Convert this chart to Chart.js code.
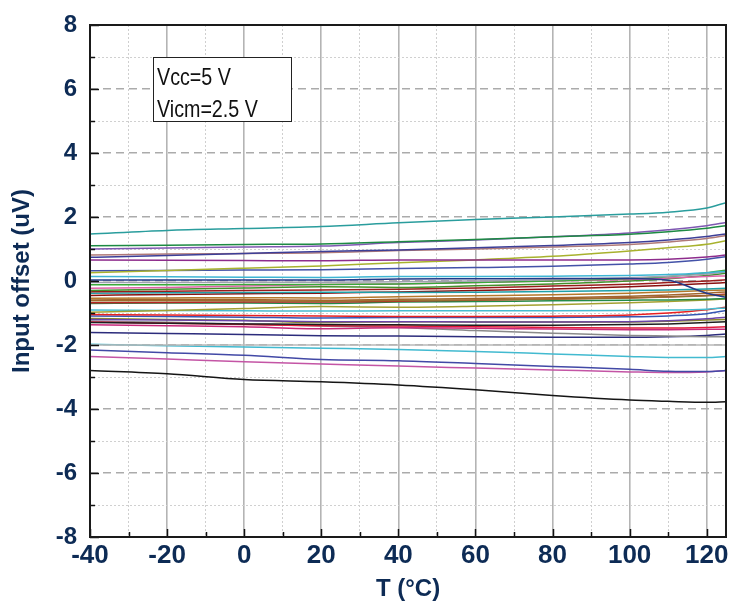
<!DOCTYPE html>
<html>
<head>
<meta charset="utf-8">
<script src="https://cdn.jsdelivr.net/npm/chart.js@4.4.1/dist/chart.umd.min.js"></script>
<style>
  html, body { margin: 0; padding: 0; background: #fff; }
  #wrap { width: 729px; height: 608px; position: relative; }
</style>
</head>
<body>
<div id="wrap"><canvas id="offsetChart" width="729" height="608"></canvas></div>
<script>
const temps = [-40, -20, 0, 20, 40, 60, 80, 100, 110, 120, 125];

// tick positions
const xTicks = [-40, -30, -20, -10, 0, 10, 20, 30, 40, 50, 60, 70, 80, 90, 100, 110, 120];
const yTicks = [-8, -7, -6, -5, -4, -3, -2, -1, 0, 1, 2, 3, 4, 5, 6, 7, 8];

// one curve per part (input offset, uV)
const s01 = [1.47, 1.58, 1.64, 1.70, 1.82, 1.92, 2.00, 2.09, 2.15, 2.28, 2.45];
const s02 = [1.10, 1.12, 1.14, 1.16, 1.23, 1.30, 1.38, 1.46, 1.54, 1.65, 1.73];
const s03 = [1.00, 1.03, 1.06, 1.09, 1.20, 1.28, 1.38, 1.50, 1.60, 1.73, 1.83];
const s04 = [0.74, 0.80, 0.86, 0.92, 0.97, 1.04, 1.11, 1.20, 1.28, 1.39, 1.47];
const s05 = [0.81, 0.84, 0.86, 0.88, 0.95, 1.00, 1.06, 1.14, 1.22, 1.33, 1.42];
const s06 = [0.66, 0.65, 0.64, 0.63, 0.66, 0.66, 0.66, 0.66, 0.68, 0.75, 0.81];
const s07 = [0.26, 0.33, 0.40, 0.47, 0.57, 0.66, 0.77, 0.94, 1.04, 1.15, 1.26];
const s08 = [0.32, 0.33, 0.34, 0.35, 0.39, 0.42, 0.46, 0.53, 0.58, 0.68, 0.76];
const s09 = [0.14, 0.13, 0.12, 0.11, 0.14, 0.14, 0.15, 0.17, 0.20, 0.26, 0.30];
const s10 = [0.03, 0.03, 0.03, 0.03, 0.06, 0.07, 0.08, 0.08, 0.02, -0.38, -0.51];
const s11 = [-0.05, -0.05, -0.04, -0.04, -0.02, 0.00, 0.04, 0.10, 0.15, 0.22, 0.28];
const s12 = [-0.12, -0.12, -0.11, -0.11, -0.09, -0.05, 0.00, 0.08, 0.14, 0.26, 0.34];
const s13 = [-0.23, -0.20, -0.16, -0.11, -0.09, -0.05, 0.00, 0.05, 0.09, 0.14, 0.16];
const s14 = [-0.30, -0.26, -0.22, -0.18, -0.20, -0.15, -0.09, 0.00, 0.07, 0.17, 0.24];
const s15 = [-0.34, -0.32, -0.30, -0.28, -0.26, -0.22, -0.16, -0.10, -0.05, 0.00, 0.04];
const s16 = [-0.38, -0.37, -0.36, -0.35, -0.36, -0.35, -0.33, -0.30, -0.28, -0.25, -0.23];
const s17 = [-0.45, -0.42, -0.40, -0.38, -0.34, -0.30, -0.25, -0.18, -0.13, -0.08, -0.05];
const s18 = [-0.54, -0.53, -0.52, -0.53, -0.49, -0.46, -0.43, -0.38, -0.34, -0.30, -0.28];
const s19 = [-0.59, -0.58, -0.58, -0.60, -0.57, -0.55, -0.52, -0.48, -0.44, -0.38, -0.34];
const s20 = [-0.62, -0.62, -0.62, -0.63, -0.61, -0.59, -0.57, -0.53, -0.50, -0.46, -0.44];
const s21 = [-0.68, -0.67, -0.66, -0.66, -0.63, -0.60, -0.56, -0.52, -0.49, -0.45, -0.41];
const s22 = [-0.70, -0.69, -0.69, -0.70, -0.66, -0.64, -0.62, -0.60, -0.59, -0.57, -0.55];
const s23 = [-0.98, -0.92, -0.86, -0.80, -0.82, -0.79, -0.74, -0.68, -0.64, -0.59, -0.56];
const s24 = [-0.91, -0.92, -0.93, -0.94, -0.93, -0.93, -0.93, -0.92, -0.91, -0.88, -0.84];
const s25 = [-1.05, -1.06, -1.08, -1.09, -1.11, -1.11, -1.10, -1.06, -1.00, -0.90, -0.82];
const s26 = [-1.09, -1.11, -1.13, -1.16, -1.14, -1.14, -1.14, -1.12, -1.09, -1.02, -0.92];
const s27 = [-1.20, -1.22, -1.24, -1.27, -1.27, -1.28, -1.28, -1.27, -1.24, -1.18, -1.13];
const s28 = [-1.17, -1.20, -1.23, -1.30, -1.27, -1.28, -1.28, -1.28, -1.26, -1.22, -1.20];
const s29 = [-1.30, -1.32, -1.34, -1.36, -1.37, -1.38, -1.38, -1.36, -1.34, -1.30, -1.27];
const s30 = [-1.28, -1.32, -1.36, -1.40, -1.41, -1.43, -1.45, -1.47, -1.47, -1.45, -1.43];
const s31 = [-1.37, -1.40, -1.43, -1.49, -1.46, -1.48, -1.50, -1.52, -1.52, -1.51, -1.51];
const s32 = [-1.25, -1.29, -1.34, -1.41, -1.45, -1.55, -1.63, -1.70, -1.72, -1.74, -1.74];
const s33 = [-1.61, -1.64, -1.67, -1.71, -1.72, -1.74, -1.76, -1.76, -1.74, -1.70, -1.66];
const s34 = [-2.00, -2.00, -2.00, -2.00, -2.00, -2.00, -2.00, -2.00, -2.00, -2.00, -2.00];
const s35 = [-1.98, -2.02, -2.06, -2.10, -2.14, -2.20, -2.28, -2.36, -2.39, -2.39, -2.36];
const s36 = [-2.16, -2.24, -2.32, -2.45, -2.49, -2.58, -2.67, -2.76, -2.82, -2.83, -2.80];
const s37 = [-2.36, -2.44, -2.52, -2.59, -2.66, -2.72, -2.78, -2.84, -2.86, -2.84, -2.80];
const s38 = [-2.80, -2.90, -3.08, -3.15, -3.25, -3.40, -3.58, -3.72, -3.76, -3.79, -3.77];

const allSeries = [s01, s02, s03, s04, s05, s06, s07, s08, s09, s10, s11, s12, s13,
  s14, s15, s16, s17, s18, s19, s20, s21, s22, s23, s24, s25, s26, s27, s28, s29,
  s30, s31, s32, s33, s34, s35, s36, s37, s38];

const lineColors = ['#2a9d9d', '#1d8a43', '#7f58b2', '#3d3f98', '#b07a78', '#8e2c8c',
  '#a8b22e', '#4352a8', '#3db5d3', '#233a8a', '#a0a0b0', '#3aa83a', '#e060a8',
  '#43902c', '#9b1c1c', '#1fa0a8', '#8a1010', '#b5782a', '#a2662c', '#9a7030',
  '#b82424', '#248a48', '#a4a030', '#45bcd0', '#e82020', '#3556b4', '#6a44a8',
  '#8c8a22', '#1e1e1e', '#e01a3a', '#c8287a', '#8a8a8a', '#2c2c7c', '#b8b8b8',
  '#42bad0', '#4249a6', '#c455a5', '#151515'];

const noteLines = ['Vcc=5 V', 'Vicm=2.5 V'];

const NAVY = '#0d2b55';
const SANS = "'Liberation Sans', Arial, sans-serif";

// frame, inward tick marks and the condition box
const decorPlugin = {
    id: 'decor',
    afterDatasetsDraw(chart) {
        const ctx = chart.ctx;
        const area = chart.chartArea;
        const xs = chart.scales.x;
        const ys = chart.scales.y;
        ctx.save();

        // inward ticks
        ctx.strokeStyle = '#111';
        ctx.lineWidth = 1.5;
        xTicks.forEach(v => {
            const px = Math.round(xs.getPixelForValue(v)) + 0.5;
            const len = (v % 20 === 0) ? 8 : 5;
            ctx.beginPath();
            ctx.moveTo(px, area.bottom);
            ctx.lineTo(px, area.bottom - len);
            ctx.stroke();
        });
        yTicks.forEach(v => {
            const py = Math.round(ys.getPixelForValue(v)) + 0.5;
            const len = (v % 2 === 0) ? 9 : 5;
            ctx.beginPath();
            ctx.moveTo(area.left, py);
            ctx.lineTo(area.left + len, py);
            ctx.stroke();
        });

        // frame
        ctx.strokeStyle = '#1a1a1a';
        ctx.lineWidth = 2;
        ctx.strokeRect(area.left, area.top, area.right - area.left, area.bottom - area.top);

        // note box (narrowed text like the original condensed face)
        const bx = 153.5, by = 57.5, bw = 138, bh = 64;
        ctx.fillStyle = '#fff';
        ctx.fillRect(bx, by, bw, bh);
        ctx.strokeStyle = '#222';
        ctx.lineWidth = 1;
        ctx.strokeRect(bx, by, bw, bh);
        ctx.fillStyle = '#111';
        ctx.font = '24px ' + SANS;
        ctx.textBaseline = 'alphabetic';
        ctx.textAlign = 'left';
        [85, 117].forEach((yy, i) => {
            ctx.save();
            ctx.translate(157, yy);
            ctx.scale(0.82, 1);
            ctx.fillText(noteLines[i], 0, 0);
            ctx.restore();
        });

        ctx.restore();
    }
};

const datasets = allSeries.map((vals, i) => ({
    label: 'part ' + (i + 1),
    data: temps.map((t, k) => ({ x: t, y: vals[k] })),
    borderColor: lineColors[i],
    borderWidth: 1.5,
    pointRadius: 0,
    fill: false,
    cubicInterpolationMode: 'monotone'
}));

new Chart(document.getElementById('offsetChart'), {
    type: 'line',
    data: { datasets: datasets },
    plugins: [decorPlugin],
    options: {
        responsive: false,
        animation: false,
        devicePixelRatio: 1,
        layout: { padding: { top: 25, right: 3, left: 0, bottom: 0 } },
        plugins: {
            legend: { display: false },
            tooltip: { enabled: false }
        },
        scales: {
            x: {
                type: 'linear',
                min: -40,
                max: 125,
                afterFit: (scale) => {
                    scale.height = 71;
                    scale.paddingLeft = 0;
                    scale.paddingRight = 0;
                },
                afterBuildTicks: (scale) => { scale.ticks = xTicks.map(v => ({ value: v })); },
                grid: {
                    drawTicks: false,
                    color: (c) => (c.tick && c.tick.value % 20 === 0) ? '#b4b4b4' : '#cfcfcf',
                    lineWidth: (c) => (c.tick && c.tick.value % 20 === 0) ? 1.6 : 1
                },
                border: {
                    display: false,
                    dash: (c) => (c.tick && c.tick.value % 20 !== 0) ? [2, 2] : []
                },
                ticks: {
                    autoSkip: false,
                    maxRotation: 0,
                    padding: 3,
                    color: NAVY,
                    font: { family: SANS, size: 26, weight: 'bold' },
                    callback: (v) => (v % 20 === 0) ? String(v) : ''
                },
                title: {
                    display: true,
                    text: 'T (°C)',
                    color: NAVY,
                    padding: { top: 0, bottom: 4 },
                    font: { family: SANS, size: 24, weight: 'bold' }
                }
            },
            y: {
                min: -8,
                max: 8,
                afterFit: (scale) => {
                    scale.width = 90;
                    scale.paddingTop = 0;
                    scale.paddingBottom = 0;
                },
                afterBuildTicks: (scale) => { scale.ticks = yTicks.map(v => ({ value: v })); },
                grid: {
                    drawTicks: false,
                    color: (c) => (c.tick && c.tick.value % 2 === 0) ? '#ababab' : '#d0d0d0',
                    lineWidth: (c) => (c.tick && c.tick.value % 2 === 0) ? 1.4 : 1
                },
                border: {
                    display: false,
                    dash: (c) => {
                        if (!c.tick) return [];
                        return (c.tick.value % 2 === 0) ? [8, 5] : [2, 2];
                    }
                },
                ticks: {
                    autoSkip: false,
                    padding: 13,
                    color: NAVY,
                    font: { family: SANS, size: 24, weight: 'bold' },
                    callback: (v) => (v % 2 === 0) ? String(v) : ''
                },
                title: {
                    display: true,
                    text: 'Input offset (uV)',
                    color: NAVY,
                    padding: { top: 8, bottom: 0 },
                    font: { family: SANS, size: 24, weight: 'bold' }
                }
            }
        }
    }
});
</script>
</body>
</html>
